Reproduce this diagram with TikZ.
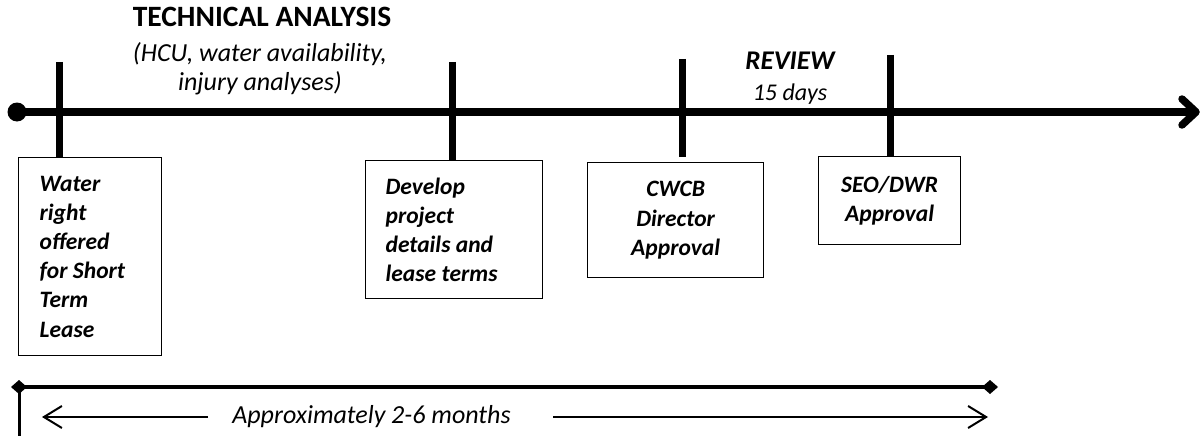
\documentclass[tikz,border=0pt]{standalone}
\usepackage{fontspec}
\setmainfont{Carlito}
\usetikzlibrary{arrows.meta}
\begin{document}
\begin{tikzpicture}[x=1pt,y=-1pt,
  boxtxt/.style={font=\fontsize{23.5}{29.2}\selectfont\bfseries\itshape, execute at begin node={\spaceskip=.23em\relax}},
  stepbox/.style={draw, line width=1.3pt, anchor=north west, inner xsep=0pt, inner ysep=0pt, boxtxt},
  tickline/.style={line width=7pt},
  axisline/.style={line width=7.5pt},
  brace/.style={line width=3.5pt},
  durarrow/.style={line width=2pt, -{Straight Barb[length=18pt,width=22pt]}},
  headtxt/.style={anchor=base, inner sep=0pt}
]
\useasboundingbox (0,0) rectangle (1202,436);

% heading texts
\node[headtxt, font=\fontsize{29.5}{34}\selectfont\bfseries] (title) at (262,27) {TECHNICAL ANALYSIS};
\node[headtxt, font=\fontsize{26}{31}\selectfont\itshape] (sub1) at (260,62) {(HCU, water availability,};
\node[headtxt, font=\fontsize{26}{31}\selectfont\itshape] (sub2) at (260,91) {injury analyses)};
\node[headtxt, font=\fontsize{27}{32}\selectfont\bfseries\itshape] (rev) at (790,70) {REVIEW};
\node[headtxt, font=\fontsize{24}{29}\selectfont\itshape] (days) at (790,100) {15 days};

% boxes
\node[stepbox, minimum width=143pt, minimum height=198pt, text width=101pt, align=left] (box1) at (18,157)
  {Water\\ right\\ offered\\ for Short\\ Term\\ Lease};
\node[stepbox, minimum width=177pt, minimum height=138pt, text width=137pt, align=left] (box2) at (365,160)
  {Develop\\ project\\ details and\\ lease terms};
\node[stepbox, minimum width=176pt, minimum height=115pt, text width=136pt, align=center] (box3) at (587,162)
  {CWCB\\ Director\\ Approval};
\node[stepbox, minimum width=142pt, minimum height=88pt, text width=110pt, align=center] (box4) at (818,156)
  {SEO/DWR\\ Approval};

% ticks
\coordinate (t1) at (59,62);
\coordinate (t2) at (452,62);
\coordinate (t3) at (682,59);
\coordinate (t3b) at (682,157);
\coordinate (t4) at (890,55);
\draw[tickline] (t1) -- (t1 |- box1.north);
\draw[tickline] (t2) -- (t2 |- box2.north);
\draw[tickline] (t3) -- (t3b);
\draw[tickline] (t4) -- (t4 |- box4.north);

% main axis
\coordinate (start) at (17,112);
\coordinate (end) at (1196,112);
\fill (start) circle (9.5pt);
\draw[axisline] (start) -- (end);
\draw[axisline, line cap=round, line join=round] (end) ++(-14,-13) -- (end) -- ++(-14,13);

% duration bracket
\coordinate (bl) at (19,387);
\coordinate (br) at (990,387);
\coordinate (bbot) at (17,436);
\draw[brace] (bl) -- (br);
\draw[line width=3pt] (bl) -- (bl |- bbot);
\fill (bl) ++(-8,0) -- ++(8,-7) -- ++(8,7) -- ++(-8,7) -- cycle;
\fill (br) ++(-8,0) -- ++(8,-7) -- ++(8,7) -- ++(-8,7) -- cycle;

% duration arrows and label
\node[headtxt, font=\fontsize{26}{31}\selectfont\itshape] (dur) at (371.5,423) {Approximately 2-6 months};
\coordinate (ls) at (208,417);
\coordinate (le) at (42,417);
\coordinate (rs) at (553,417);
\coordinate (re) at (988,417);
\draw[durarrow] (ls) -- (le);
\draw[durarrow] (rs) -- (re);
\end{tikzpicture}
\end{document}
